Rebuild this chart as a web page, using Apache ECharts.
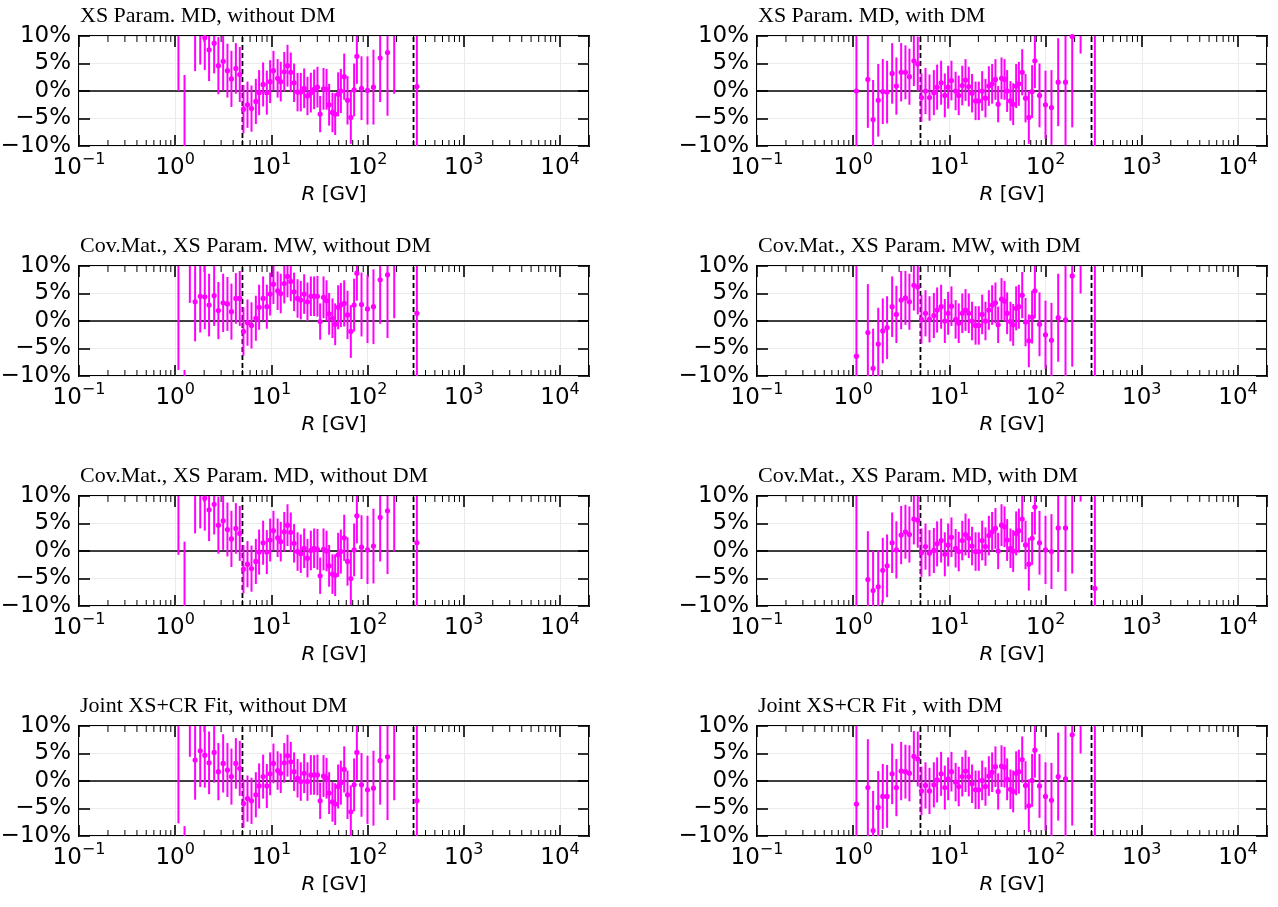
<!DOCTYPE html>
<html>
<head>
<meta charset="utf-8">
<title>Residuals per fit setup</title>
<script src="https://cdn.jsdelivr.net/npm/echarts@6/dist/echarts.min.js"></script>
<style>
  html, body { margin: 0; padding: 0; background: #fff; }
  #chart { width: 1278px; height: 907px; }
</style>
</head>
<body>
<div id="chart"></div>
<script>
// rigidity bins [GV], shared by all panels
const rigidity = [1.08, 1.25, 1.42, 1.61, 1.82, 2.03, 2.25, 2.54, 2.81, 3.15, 3.49, 3.84, 4.27, 4.69,
  5.12, 5.64, 6.21, 6.89, 7.45, 8.20, 8.96, 9.70, 10.5, 11.6, 12.5, 13.6, 14.7, 15.9, 17.2, 18.7,
  20.2, 21.9, 23.7, 25.7, 27.8, 30.1, 32.1, 34.8, 37.4, 39.8, 43.1, 46.0, 49.4, 52.7, 57.1, 61.8,
  66.9, 72.4, 77.3, 86.4, 99.7, 115, 135, 161, 189, 231, 325];

// relative data uncertainty [%]
const errors = [24, 14, 8.8, 7.2, 6.6, 5.9, 5.7, 5.5, 5.2, 5.3, 4.9, 5.1, 4.6, 5.0,
  4.4, 4.2, 4.2, 4.1, 4.1, 4.0, 4.0, 3.9, 3.6, 3.5, 3.6, 3.6, 3.8, 3.6, 3.5, 3.5,
  3.5, 3.6, 3.5, 3.6, 3.6, 3.7, 3.3, 3.8, 3.7, 3.8, 3.6, 3.8, 4.0, 4.0, 4.2, 4.4,
  4.8, 4.8, 5.0, 5.8, 6.2, 6.8, 8.0, 11.5, 16.5, 18, 30];

// residuals (data - model) / model [%]
const resMdNoDm = [24, -11.1, null, 10.8, 11.4, 9.7, 7.5, 8.7, 4.6, 5.4, 3.7, 2.2, 4.1, 3.0,
  -3.3, -2.5, -3.2, -1.9, -0.3, 1.2, -0.3, 1.7, 3.7, 2.3, 1.7, 3.5, 4.6, 3.4, 1.5, -0.2,
  -0.2, 0.5, -0.9, -0.3, 0.3, 0.7, -4.2, 0.4, 0.3, -2.5, -3.9, -4.2, -0.6, 0, 2.6, -1.7,
  -4.8, 0.2, 6.3, 0.5, 0.1, 0.7, 6.0, 7.0, 16, null, 0.8];
const resMdDm = [0, null, 2.1, -5.2, -1.7, -0.1, -0.2, 3.2, 0.9, 3.4, 3.4, 2.6, 5.5, 4.9,
  -1.2, 0, -1.2, -0.3, 0.7, 1.5, -0.8, 0.7, 1.9, 0, -0.8, 1, 2, 0.8, -0.4, -1.8,
  -1.8, 0, -1.3, 0.9, 1.3, 2.1, -2.4, 2.3, 2.1, 0, -1.8, -2.4, 0.9, 1.3, 3.4, -1.3,
  -4.8, -0.1, 5.5, -0.8, -2.5, -3, 1.6, 1.6, 9.9, 24.8, 14];
const resCovMwNoDm = [15.1, -22.9, 12.1, 3.5, 4.5, 4.4, 2.9, 4.6, 1.9, 3.3, 3.1, 1.7, 4.1, 4.1,
  -1.9, -0.3, -0.8, 0.5, 2.5, 4.1, 2.6, 4.9, 6.7, 5.5, 5.0, 6.8, 8.1, 7.2, 5.3, 4.1,
  3.8, 4.9, 3.5, 4.5, 4.5, 4.5, -0.1, 4.3, 3.7, 1.3, 0.5, -0.6, 2.5, 2.9, 3.2, 1.1,
  -1.9, 2.9, 8.7, 3.0, 2.2, 2.6, 7.5, 8.4, 17, null, 1.4];
const resCovMwDm = [-6.4, null, -2.1, -8.6, -4.2, -1.8, -1.2, 2.6, 1.2, 3.8, 4.2, 3.5, 6.5, 6.2,
  0.3, 1.4, 0.3, 1.0, 2.0, 2.6, 0, 1.4, 2.7, 0.3, -0.4, 1.4, 2.0, 1.4, 0, -0.8,
  -0.8, 1.2, 0, 2.0, 2.9, 3.3, -0.7, 4.0, 3.6, 1.4, -0.1, -0.7, 2.3, 2.6, 4.7, -0.2,
  -3.6, 0.7, 5.5, -0.6, -2.5, -3.5, 0.6, 0.2, 8.2, 23, 14];
const resCovMdNoDm = [23.3, -12.3, null, 10.4, 10.7, 9.6, 7.5, 8.5, 4.7, 5.5, 3.9, 2.2, 4.1, 3.2,
  -3.3, -2.4, -3.2, -1.9, -0.2, 1.5, -0.2, 2.0, 3.7, 2.4, 1.7, 3.5, 4.7, 3.4, 1.4, -0.1,
  -0.5, 0.5, -1.3, 0.1, 0.5, 0.3, -4.5, 0.3, 0, -2.7, -4.2, -4.4, -0.7, -0.1, 2.4, -1.9,
  -5.0, 0.2, 6.4, 0.7, 0.2, 0.9, 6.1, 7.3, 16.4, null, 1.5];
const resCovMdDm = [-11, null, -5.2, -7.2, -6.5, -3.5, -2.7, 1.5, 0.2, 2.9, 3.5, 3.0, 5.8, 5.6,
  -0.3, 0.8, -0.4, 0.1, 1.3, 1.9, -0.6, 1.1, 2.5, 0.5, -0.1, 1.9, 3.0, 2.3, 0.9, -0.1,
  -0.1, 1.9, 0.8, 2.8, 3.5, 4.1, 0, 4.7, 4.4, 2.0, 0.5, 0, 3.2, 3.7, 5.8, 1.1,
  -2.4, 2.3, 8, 1.5, 0.2, -0.1, 4.2, 4.2, 12.4, 27, -6.8];
const resJointNoDm = [16.3, -22.2, 13.2, 3.8, 5.5, 4.7, 3.3, 5.2, 1.7, 3.2, 2.0, 0.8, 3.2, 2.3,
  -4.1, -3.2, -3.6, -2.5, -0.9, 0.8, -0.9, 1.3, 3.2, 1.9, 1.4, 3.3, 4.6, 3.5, 1.7, 0.5,
  -0.1, 1.4, -0.1, 1.1, 1.1, 1.1, -3.6, 0.9, 0.5, -2.2, -3.8, -4.2, -1.0, -0.3, 2.1, -2.5,
  -5.6, -0.7, 5.2, -0.7, -1.6, -1.3, 3.7, 4.4, 13, null, -3.6];
const resJointDm = [-4.2, null, -1.2, -9.0, -4.8, -2.8, -2.8, 1.3, -1.2, 1.8, 1.7, 1.4, 4.5, 4.0,
  -1.8, -0.8, -1.8, -0.7, 0.2, 1.3, -1.2, 0.4, 1.7, -0.2, -1.0, 0.8, 1.8, 0.8, -0.5, -1.6,
  -1.6, 0.1, -1.0, 0.9, 1.6, 2.6, -1.9, 2.7, 2.5, 0.3, -1.5, -1.9, 1.4, 1.7, 3.9, -0.8,
  -4.5, 0.1, 5.6, -0.9, -2.8, -3.5, 0.8, 0.4, 8.4, 23, 14];

const panelTitles = [
  'XS Param. MD, without DM', 'XS Param. MD, with DM',
  'Cov.Mat., XS Param. MW, without DM', 'Cov.Mat., XS Param. MW, with DM',
  'Cov.Mat., XS Param. MD, without DM', 'Cov.Mat., XS Param. MD, with DM',
  'Joint XS+CR Fit, without DM', 'Joint XS+CR Fit , with DM'
];
const panelValues = [resMdNoDm, resMdDm, resCovMwNoDm, resCovMwDm,
  resCovMdNoDm, resCovMdDm, resJointNoDm, resJointDm];

// fit range limits [GV]
const cutLines = [5, 300];

const X_MIN = 0.1, X_MAX = 20000;
const Y_MIN = -10, Y_MAX = 10, Y_STEP = 5;

// layout
const COL_LEFT = [79, 757];
const ROW_TOP = [36, 266, 496, 726];
const PLOT_W = 510, PLOT_H = 110;
const MAGENTA = '#ff00ff';
const SANS = 'DejaVu Sans';

// minor ticks of the log axis: 2..9 x 10^n
const minorTicks = [];
for (let d = -1; d <= 4; d++) {
  for (let m = 2; m <= 9; m++) {
    const v = m * Math.pow(10, d);
    if (v < X_MAX) minorTicks.push([v, 0]);
  }
}

function powLabel(v) {
  const e = Math.round(Math.log10(v));
  if (Math.abs(Math.log10(v) - e) > 1e-6) return '';
  return '{b|10}{e|' + (e < 0 ? '\u2212' + (-e) : e) + '}';
}

function pctLabel(v) {
  return (v < 0 ? '\u2212' + (-v) : v) + '%';
}

function renderErrBar(params, api) {
  const r = api.value(0), v = api.value(1), e = api.value(2);
  const lo = Math.max(v - e, Y_MIN), hi = Math.min(v + e, Y_MAX);
  const children = [];
  if (hi > lo) {
    const p1 = api.coord([r, lo]), p2 = api.coord([r, hi]);
    children.push({
      type: 'line',
      shape: { x1: p1[0], y1: p1[1], x2: p2[0], y2: p2[1] },
      style: { stroke: MAGENTA, lineWidth: 2 }
    });
  }
  if (v >= Y_MIN && v <= Y_MAX) {
    const c = api.coord([r, v]);
    children.push({ type: 'circle', shape: { cx: c[0], cy: c[1], r: 2.6 }, style: { fill: MAGENTA } });
  }
  return { type: 'group', children };
}

function renderMinorTick(params, api) {
  const x = api.coord([api.value(0), 0])[0];
  const cs = params.coordSys;
  const style = { stroke: '#000', lineWidth: 1 };
  return {
    type: 'group',
    children: [
      { type: 'line', shape: { x1: x, y1: cs.y + cs.height, x2: x, y2: cs.y + cs.height - 6 }, style },
      { type: 'line', shape: { x1: x, y1: cs.y, x2: x, y2: cs.y + 6 }, style }
    ]
  };
}

const grid = [], xAxis = [], yAxis = [], series = [], title = [];
const majorTick = { inside: true, length: 11, lineStyle: { color: '#000', width: 1.6 } };
const noLine = { show: false, onZero: false };

panelValues.forEach((vals, i) => {
  const left = COL_LEFT[i % 2];
  const top = ROW_TOP[Math.floor(i / 2)];
  grid.push({
    left, top, width: PLOT_W, height: PLOT_H,
    show: true, borderColor: '#000', borderWidth: 2,
    outerBoundsMode: 'none'
  });
  title.push({
    text: panelTitles[i], left: left + 1, top: top - 31, padding: 0,
    textStyle: { fontFamily: 'Liberation Serif', fontSize: 22, fontWeight: 'normal', color: '#000' }
  });

  const logAxis = { gridIndex: i, type: 'log', logBase: 10, min: X_MIN, max: X_MAX, axisLine: noLine, axisTick: majorTick };
  xAxis.push(Object.assign({}, logAxis, {
    position: 'bottom',
    splitLine: { show: true, lineStyle: { color: '#ebebeb', width: 1 } },
    axisLabel: {
      margin: 6, color: '#000', formatter: powLabel,
      rich: {
        b: { fontFamily: SANS, fontSize: 23, color: '#000', lineHeight: 28, verticalAlign: 'bottom' },
        e: { fontFamily: SANS, fontSize: 16, color: '#000', lineHeight: 16, verticalAlign: 'top' }
      }
    },
    name: '{i|R} [GV]', nameLocation: 'middle', nameGap: 39,
    nameTextStyle: {
      fontFamily: SANS, fontSize: 20, color: '#000',
      rich: { i: { fontFamily: SANS, fontSize: 20, fontStyle: 'italic', color: '#000' } }
    }
  }));
  xAxis.push(Object.assign({}, logAxis, {
    position: 'top', axisLabel: { show: false }, splitLine: { show: false }
  }));

  const linAxis = { gridIndex: i, type: 'value', min: Y_MIN, max: Y_MAX, interval: Y_STEP, axisLine: noLine, axisTick: majorTick };
  yAxis.push(Object.assign({}, linAxis, {
    position: 'left',
    splitLine: { show: true, lineStyle: { color: '#ebebeb', width: 1 } },
    axisLabel: { margin: 8, color: '#000', fontFamily: SANS, fontSize: 23, formatter: pctLabel }
  }));
  yAxis.push(Object.assign({}, linAxis, {
    position: 'right', axisLabel: { show: false }, splitLine: { show: false }
  }));

  const xi = 2 * i, yi = 2 * i;
  series.push({
    type: 'custom', xAxisIndex: xi, yAxisIndex: yi, silent: true, z: 1,
    data: minorTicks, encode: { x: 0, y: 1 }, renderItem: renderMinorTick
  });
  series.push({
    type: 'line', xAxisIndex: xi, yAxisIndex: yi, silent: true, z: 2, symbol: 'none',
    data: [[X_MIN, 0], [X_MAX, 0]], lineStyle: { color: '#000', width: 1.5 }
  });
  cutLines.forEach(c => {
    series.push({
      type: 'line', xAxisIndex: xi, yAxisIndex: yi, silent: true, z: 2, symbol: 'none',
      data: [[c, Y_MIN], [c, Y_MAX]], lineStyle: { color: '#000', width: 1.8, type: [5, 3] }
    });
  });
  const pts = [];
  rigidity.forEach((r, k) => {
    if (vals[k] !== null) pts.push([r, vals[k], errors[k]]);
  });
  series.push({
    type: 'custom', xAxisIndex: xi, yAxisIndex: yi, silent: true, z: 3,
    data: pts, encode: { x: 0, y: 1 }, renderItem: renderErrBar
  });
});

const chart = echarts.init(document.getElementById('chart'), null, { renderer: 'canvas' });
chart.setOption({
  animation: false,
  backgroundColor: '#fff',
  title, grid, xAxis, yAxis, series
});
</script>
</body>
</html>
